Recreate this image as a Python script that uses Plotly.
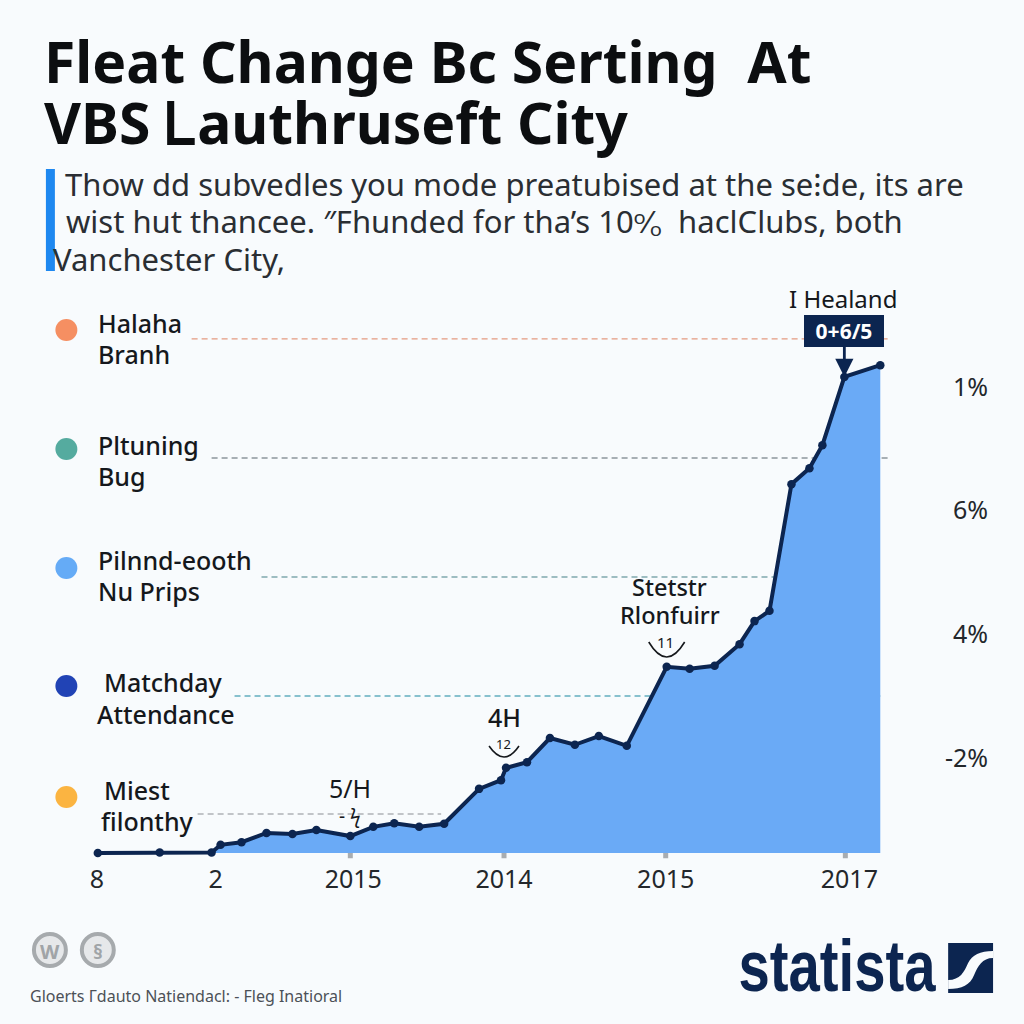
import plotly.graph_objects as go

# ---- data ----
period = [0.6, 6.8, 12, 12.9, 15, 17.5, 20.1, 22.5, 25.9, 28.2, 30.3, 32.8, 35.3, 38.8, 41, 41.5,
          43.6, 45.9, 48.4, 50.8, 53.6, 57.6, 59.9, 62.4, 64.9, 66.4, 67.9, 70.1, 71.9, 73.2, 75.4, 79]
values = [0, 0.1, 0.1, 1.6, 2.1, 3.9, 3.7, 4.5, 3.3, 5.1, 5.8, 5.1, 5.7, 12.5, 14.2, 16.6,
          17.7, 22.4, 21.1, 22.8, 20.9, 36.3, 35.9, 36.5, 40.7, 45.2, 47.2, 71.9, 75, 79.5, 92.8, 95.1]
x_tick_vals = [0.5, 12.4, 26.2, 41.3, 57.5, 75.9]
x_tick_text = ["8", "2", "2015", "2014", "2015", "2017"]
tick_mark_vals = [25.9, 41.3, 57.5, 75.5]
y_tick_vals = [90.8, 66.9, 42.7, 18.5]
y_tick_text = ["1%", "6%", "4%", "-2%"]
ref_levels = [100.2, 77, 53.8, 30.6, 7.6]
ref_starts = [10, 12, 17, 14.3, 10.6]
ref_ends = [79.8, 79.8, 79, 79, 35]
ref_colors = ["#e39a80", "#8c979c", "#7fa9ad", "#62aebf", "#aeb3b6"]
legend_labels = [["Halaha", "Branh"], ["Pltuning", "Bug"], ["Pilnnd-eooth", "Nu Prips"],
                 ["Matchday", "Attendance"], ["Miest", "filonthy"]]
legend_colors = ["#f58f62", "#55ab9f", "#65abf6", "#2143b5", "#fbb441"]

W = 1024
NAVY = "#0c2550"
FILL = "#6aaaf6"
BG = "#f8fbfd"


def px(v):
    return v / W


def py(v):
    return 1 - v / W


annotations = []


def text(s, x, y, size, color="#15181c", anchor="left", bold=False, family="Noto Sans", weight=None):
    f = dict(size=size, color=color, family=family)
    if weight:
        f["weight"] = weight
    annotations.append(dict(
        text=f"<b>{s}</b>" if bold else s, x=px(x), y=py(y), xref="paper", yref="paper",
        xanchor=anchor, yanchor="middle", showarrow=False, font=f))


shapes = []
for lvl, a, b, c in zip(ref_levels, ref_starts, ref_ends, ref_colors):
    shapes.append(dict(type="line", xref="x", yref="y", x0=a, x1=b, y0=lvl, y1=lvl, layer="below",
                       line=dict(color=c, width=1.3, dash="6px,4px")))
for t in tick_mark_vals:
    shapes.append(dict(type="rect", xref="x", yref="y", x0=t - 0.25, x1=t + 0.25, y0=-1, y1=0,
                       line=dict(width=0), fillcolor="#a9adb1", layer="below"))


def circle(cx, cy, r, fill, line=None, lw=0):
    shapes.append(dict(type="circle", xref="paper", yref="paper", x0=px(cx - r), x1=px(cx + r),
                       y0=py(cy + r), y1=py(cy - r), fillcolor=fill,
                       line=dict(color=line or fill, width=lw)))


def path(points_d, color, width=0, fill=None):
    shapes.append(dict(type="path", xref="paper", yref="paper", path=points_d, fillcolor=fill,
                       line=dict(color=color, width=width)))


# blue bar next to the subtitle
shapes.append(dict(type="rect", xref="paper", yref="paper", x0=px(44), x1=px(53), y0=py(271), y1=py(169),
                   fillcolor="#1e88f0", line=dict(width=0)))

# legend
legend_y = [(323, 354, 330), (445, 476, 449), (560, 591, 568), (682, 714, 686), (790, 821, 797)]
legend_x = [(94, 94), (94, 94), (94, 94), (100, 93), (100, 97)]
for (l1, l2), col, (y1, y2, yd), (x1, x2) in zip(legend_labels, legend_colors, legend_y, legend_x):
    circle(64.5, yd, 11, col)
    text(l1, x1, y1, 25, weight=500)
    text(l2, x2, y2, 25, weight=500)

# title and subtitle
text("Fleat Change Bc Serting  At", 40, 61, 57, "#0c0e10", bold=True)
text("VBS Ꮮauthruseft City", 40, 122, 57, "#0c0e10", bold=True)
text("Thow dd subvedles you mode preatubised at the se⁝de, its are", 61, 183.5, 31, "#2a2e33")
text("wist hut thancee. ″Fhunded for tha’s 10ᵒ⁄ₒ  haclClubs, both", 62, 220.5, 31, "#2a2e33")
text("Vanchester City,", 49, 258.5, 31, "#2a2e33")

# chart call-outs
text("I Healand", 843, 298, 24, anchor="center")
text("5/H", 349, 788, 25, anchor="center")
text("- ϟ", 349, 816, 19, anchor="center")
text("4H", 503, 717, 25, anchor="center", weight=500)
text("12", 502, 744, 13, anchor="center")
text("Stetstr", 669, 587, 23.5, anchor="center", weight=500)
text("Rlonfuirr", 669, 615, 23.5, anchor="center", weight=500)
text("11", 665, 642, 15, anchor="center")
path(f"M {px(488)} {py(746)} Q {px(503)} {py(768)} {px(518)} {py(746)}", "#15181c", 1.6)
path(f"M {px(648)} {py(642)} Q {px(666)} {py(672)} {px(684)} {py(642)}", "#15181c", 1.6)

annotations.append(dict(
    text="<b>0+6/5</b>", x=75.4, y=92.8, xref="x", yref="y", showarrow=True, ax=0, ay=-46,
    arrowhead=2, arrowsize=1.3, arrowwidth=2.8, arrowcolor=NAVY, bgcolor=NAVY, bordercolor=NAVY,
    width=76, height=28, font=dict(size=21, color="white", family="Noto Sans")))

# footer
circle(48, 950, 16, "#e6e8ea", "#a6aaad", 4)
circle(96, 950, 16, "#e6e8ea", "#a6aaad", 4)
text("W", 48, 951, 20, "#a0a4a7", anchor="center", bold=True)
text("§", 96, 951, 20, "#a0a4a7", anchor="center", bold=True)
text("Gloerts Гdauto Natiendacl: - Fleg Inatioral", 26, 996, 16, "#4c5157")
text("statista", 837, 966, 72, NAVY, anchor="center", bold=True, family="Liberation Sans")
shapes.append(dict(type="rect", xref="paper", yref="paper", x0=px(948), x1=px(993), y0=py(993), y1=py(943),
                   fillcolor=NAVY, line=dict(width=0)))
path(f"M {px(993)} {py(951)} C {px(980)} {py(951)} {px(972)} {py(955)} {px(968)} {py(963)} "
     f"C {px(964)} {py(972)} {px(960)} {py(980)} {px(948)} {py(980)} "
     f"L {px(948)} {py(989)} C {px(962)} {py(989)} {px(970)} {py(985)} {px(974)} {py(975)} "
     f"C {px(978)} {py(966)} {px(982)} {py(958)} {px(993)} {py(958)} Z", BG, 0, BG)

fig = go.Figure(go.Scatter(
    x=period, y=values, mode="lines+markers", fill="tozeroy", fillcolor=FILL,
    line=dict(color=NAVY, width=4), marker=dict(color=NAVY, size=8.5),
    hoverinfo="skip", showlegend=False, cliponaxis=False))

fig.update_layout(
    width=1024, height=1024, margin=dict(l=0, r=0, t=0, b=0),
    paper_bgcolor=BG, plot_bgcolor="rgba(0,0,0,0)", font=dict(family="Noto Sans"),
    xaxis=dict(domain=[px(90), px(890)], range=[0, 80], tickvals=x_tick_vals, ticktext=x_tick_text,
               showgrid=False, zeroline=False, showline=False, ticks="", ticklabelstandoff=3,
               tickfont=dict(size=25, color="#23272b")),
    yaxis=dict(domain=[py(853 + 1.2 * 5.13), py(340 - 3 * 5.13)], range=[-1.2, 103],
               tickvals=y_tick_vals, ticktext=y_tick_text,
               anchor="free", position=px(988), side="left", showgrid=False, zeroline=False,
               showline=False, ticks="", tickfont=dict(size=25, color="#23272b")),
    shapes=shapes, annotations=annotations)

post = """
document.documentElement.style.margin='0';
document.body.style.margin='0';
document.body.style.overflow='hidden';
document.body.style.background='%s';
document.querySelectorAll('.annotation-text').forEach(function(t){
  if(t.textContent==='statista'){t.setAttribute('textLength','197');t.setAttribute('lengthAdjust','spacingAndGlyphs');}
});
""" % BG
fig.write_html("out.html", post_script=post, config=dict(displayModeBar=False))
